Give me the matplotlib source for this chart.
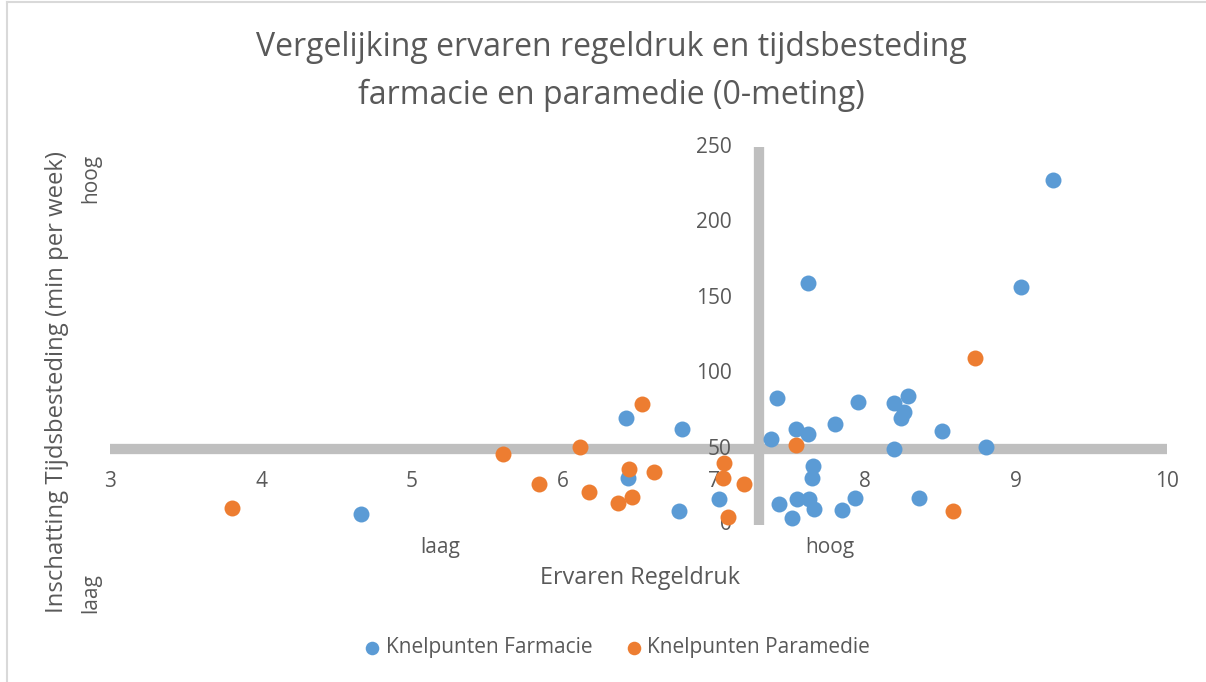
import matplotlib
matplotlib.use("Agg")
import matplotlib.pyplot as plt
from matplotlib.lines import Line2D

plt.rcParams['font.family'] = ['Open Sans', 'DejaVu Sans']

# Knelpunten Farmacie (x = ervaren regeldruk, y = tijdsbesteding)
farmacie_x = [4.66, 6.43, 6.42, 6.79, 6.77, 7.03, 7.38, 7.42, 7.54, 7.62, 7.80,
              7.955, 8.195, 8.286, 8.257, 8.24, 8.51, 8.19, 8.80, 7.656, 7.65,
              7.433, 7.55, 7.627, 7.665, 7.517, 7.85, 7.935, 8.36, 9.247, 7.623, 9.03]
farmacie_y = [7.4, 30.8, 70.9, 63.6, 9.3, 16.9, 56.9, 83.8, 63.4, 60.3, 67.0,
              81.5, 80.9, 85.5, 74.5, 70.9, 62.3, 50.2, 51.7, 38.9, 31.2,
              14.0, 16.9, 17.1, 10.5, 4.7, 9.6, 17.5, 17.9, 228.3, 160.3, 157.7]

# Knelpunten Paramedie
paramedie_x = [3.81, 5.60, 6.115, 5.84, 6.17, 6.365, 6.46, 6.44, 6.60, 6.52,
               7.066, 7.06, 7.20, 7.095, 7.546, 8.58, 8.73]
paramedie_y = [11.3, 46.9, 51.7, 27.0, 21.9, 14.4, 18.6, 37.2, 35.2, 80.2,
               40.7, 31.2, 27.2, 5.0, 52.8, 9.3, 110.7]

x_ticks = [3, 4, 5, 6, 7, 8, 9, 10]
y_ticks = [0, 50, 100, 150, 200, 250]
x_cross = 7.3   # waar de verticale as de x-as snijdt
y_cross = 50    # waar de horizontale as de y-as snijdt

tekst_kleur = '#595959'
lijn_kleur = '#BFBFBF'
blauw = '#5B9BD5'
oranje = '#ED7D31'

fig = plt.figure(figsize=(12.06, 6.82), dpi=100)
ax = fig.add_axes([110 / 1206, 1 - 524.8 / 682, 1057 / 1206, (524.8 - 147.3) / 682])
ax.set_xlim(3, 10)
ax.set_ylim(0, 250)
ax.axis('off')

# Kruislijnen (assen)
ax.plot([3, 10], [y_cross, y_cross], color=lijn_kleur, lw=7.4, solid_capstyle='butt', zorder=1)
ax.plot([x_cross, x_cross], [0, 250], color=lijn_kleur, lw=7.4, solid_capstyle='butt', zorder=1)

# Aslabels
for v in x_ticks:
    ax.annotate(str(v), xy=(v, y_cross), xytext=(0, -23), textcoords='offset points',
                ha='center', va='center', fontsize=15, color=tekst_kleur, zorder=2,
                annotation_clip=False)
for v in y_ticks:
    ax.annotate(str(v), xy=(x_cross, v), xytext=(-20, 0), textcoords='offset points',
                ha='right', va='center', fontsize=15, color=tekst_kleur, zorder=2,
                annotation_clip=False)

ax.scatter(farmacie_x, farmacie_y, s=132, color=blauw, linewidths=0, zorder=3,
           clip_on=False, label='Knelpunten Farmacie')
ax.scatter(paramedie_x, paramedie_y, s=132, color=oranje, linewidths=0, zorder=4,
           clip_on=False, label='Knelpunten Paramedie')

# Titel en astitels
fig.text(611 / 1206, 1 - 48 / 682, 'Vergelijking ervaren regeldruk en tijdsbesteding',
         ha='center', va='center', fontsize=23, color=tekst_kleur)
fig.text(611 / 1206, 1 - 95 / 682, 'farmacie en paramedie (0-meting)',
         ha='center', va='center', fontsize=23, color=tekst_kleur)

fig.text(640 / 1206, 1 - 578 / 682, 'Ervaren Regeldruk', ha='center', va='center',
         fontsize=16.8, color=tekst_kleur)
fig.text(440 / 1206, 1 - 547 / 682, 'laag', ha='center', va='center', fontsize=15, color=tekst_kleur)
fig.text(830 / 1206, 1 - 547 / 682, 'hoog', ha='center', va='center', fontsize=15, color=tekst_kleur)

fig.text(57 / 1206, 1 - 613 / 682, 'Inschatting Tijdsbesteding (min per week)', rotation=90,
         ha='center', va='bottom', fontsize=17.2, color=tekst_kleur)
fig.text(91 / 1206, 1 - 593 / 682, 'laag', rotation=90, ha='center', va='center',
         fontsize=15, color=tekst_kleur)
fig.text(91 / 1206, 1 - 178 / 682, 'hoog', rotation=90, ha='center', va='center',
         fontsize=15, color=tekst_kleur)

fig.legend(loc='center', bbox_to_anchor=(617 / 1206, 1 - 648 / 682), ncol=2, frameon=False,
           fontsize=15, labelcolor=tekst_kleur, handlelength=0.8, handletextpad=0.25,
           columnspacing=1.6, markerscale=0.85)

# Rand van het diagram
fig.add_artist(Line2D([7 / 1206, 1], [1 - 2 / 682, 1 - 2 / 682], color='#D9D9D9', lw=1.5))
fig.add_artist(Line2D([7 / 1206, 7 / 1206], [0, 1 - 2 / 682], color='#D9D9D9', lw=1.5))

fig.savefig('out.png', dpi=100)
